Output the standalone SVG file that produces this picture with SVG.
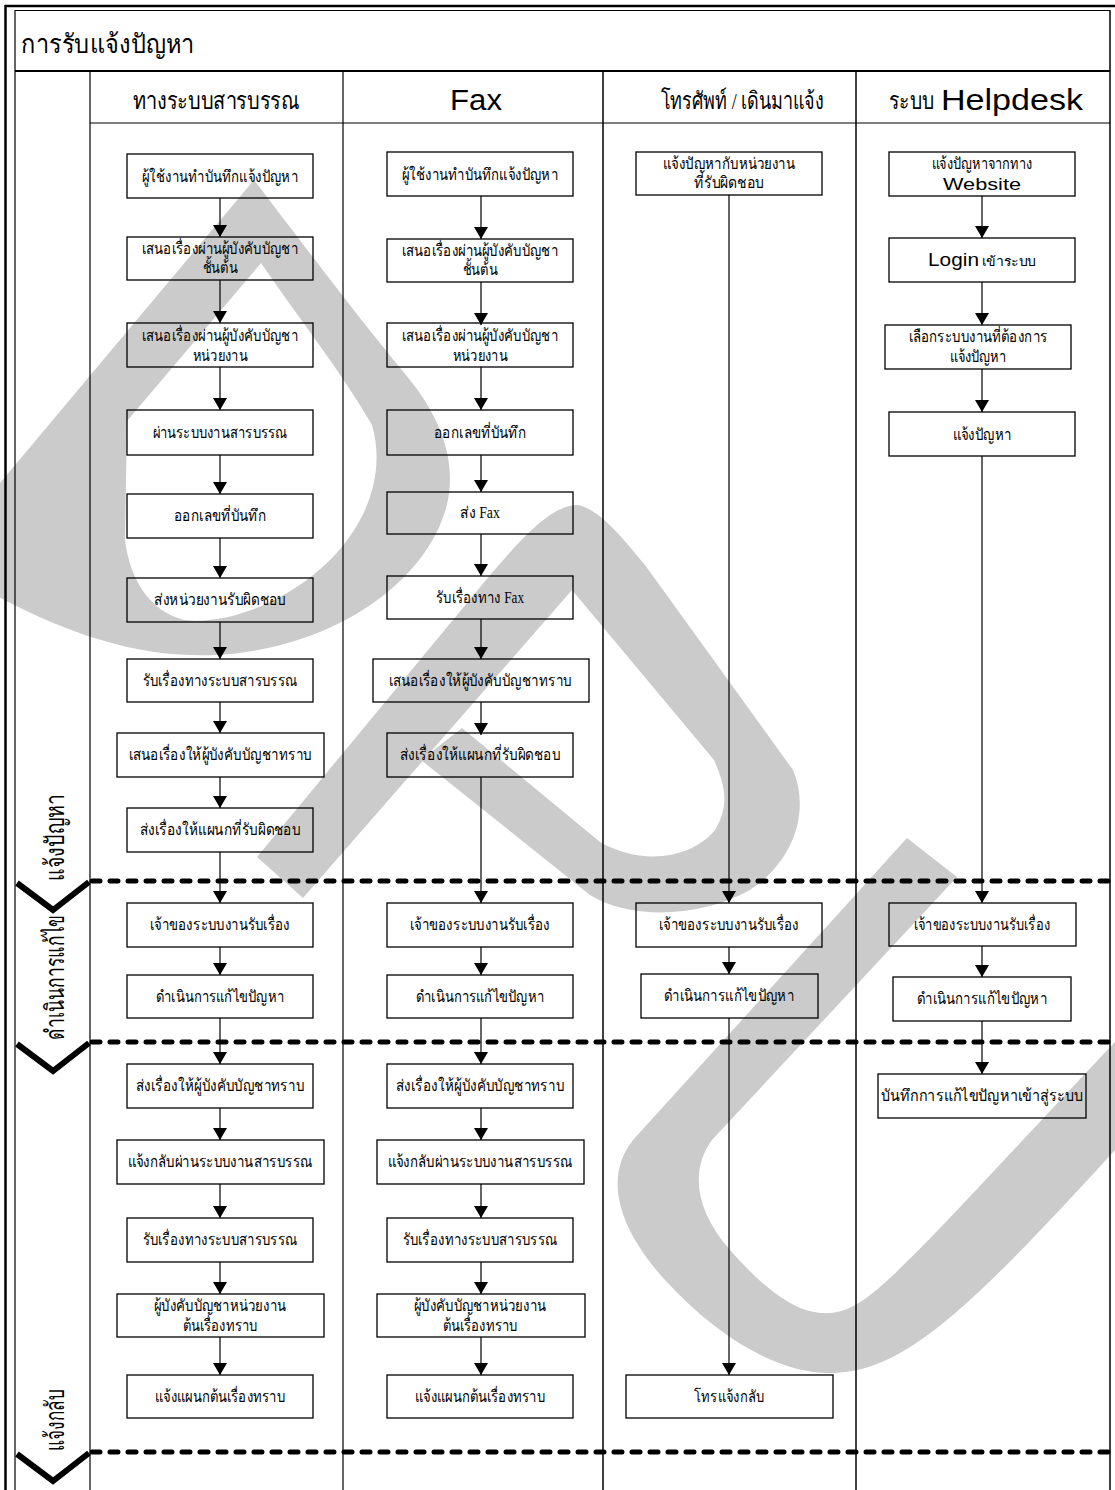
<svg xmlns="http://www.w3.org/2000/svg" width="1115" height="1490" viewBox="0 0 1115 1490">
<defs>
<style>
.box{fill:none;stroke:#000;stroke-width:1.3}
.t{font-family:'Liberation Serif','DejaVu Serif',serif;font-size:16px;fill:#000;text-anchor:middle}
.s{font-family:'Liberation Sans','DejaVu Sans',sans-serif;fill:#000}
.hd{font-size:24px}
.lane{font-family:'Liberation Serif','DejaVu Serif',serif;font-size:26px;fill:#000;text-anchor:middle}
.frame{stroke:#000;fill:none}
.wm{fill:#cbcbcb;stroke:none}
.cn{stroke:#000;stroke-width:1.2;fill:none;marker-end:url(#ah)}
.dash{stroke:#000;stroke-width:5;stroke-dasharray:8 10;stroke-linecap:round;fill:none}
.chev{stroke:#000;stroke-width:6;fill:none;stroke-linejoin:miter}
</style>
<marker id="ah" viewBox="0 0 12 14" refX="12" refY="7" markerWidth="12" markerHeight="14" markerUnits="userSpaceOnUse" orient="auto">
<path d="M0,0 L12,7 L0,14 Z" fill="#000"/>
</marker>
</defs>
<rect x="0" y="0" width="1115" height="1490" fill="#fff"/>
<g id="watermark">
<path class="wm" fill-rule="evenodd" d="M -5,489 L 254,180 C 300,240 360,320 410,380 C 450,430 460,480 440,525 C 410,595 320,650 215,655 C 140,658 70,635 -5,595 Z M 261,263 C 300,320 340,370 372,425 C 385,470 370,520 330,560 C 290,600 230,625 185,620 C 150,612 130,580 125,540 L 127,421 Z"/>
<path class="wm" d="M 257,857 L 486,580 C 520,540 550,505 578,505 C 600,510 620,535 645,565 L 793,770 C 810,810 795,860 750,890 C 700,918 630,920 590,895 L 421,760 L 462,728 L 600,842 C 640,865 690,860 715,830 C 730,805 725,785 714,760 L 572,590 L 303,898 Z"/>
<path class="wm" d="M 907,838 L 957,877 L 712,1140 C 690,1170 695,1210 730,1250 C 770,1295 800,1315 830,1313 C 870,1310 900,1270 1115,1042 L 1115,1150 C 960,1320 900,1373 829,1373 C 780,1373 720,1340 665,1280 C 615,1225 605,1175 633,1140 Z"/>
</g>
<g id="frame">
<line class="frame" x1="5" y1="6" x2="1115" y2="6" stroke-width="2.5"/>
<line class="frame" x1="5.5" y1="5" x2="5.5" y2="1490" stroke-width="2.5"/>
<line class="frame" x1="15" y1="10.5" x2="1110" y2="10.5" stroke-width="1.2"/>
<line class="frame" x1="15" y1="10" x2="15" y2="1490" stroke-width="1.2"/>
<line class="frame" x1="1110" y1="10" x2="1110" y2="1490" stroke-width="1.5"/>
<line class="frame" x1="15" y1="71" x2="1110" y2="71" stroke-width="2"/>
<line class="frame" x1="90" y1="123" x2="1110" y2="123" stroke-width="1.2"/>
<line class="frame" x1="90" y1="71" x2="90" y2="1490" stroke-width="1.2"/>
<line class="frame" x1="343" y1="71" x2="343" y2="1490" stroke-width="1.2"/>
<line class="frame" x1="603" y1="71" x2="603" y2="1490" stroke-width="1.5"/>
<line class="frame" x1="856" y1="71" x2="856" y2="1490" stroke-width="1.5"/>
</g>
<g id="headers">
<text class="t" x="21" y="53" style="font-size:26px;text-anchor:start" textLength="174" lengthAdjust="spacingAndGlyphs">การรับแจ้งปัญหา</text>
<text class="t hd" x="216" y="109" textLength="167" lengthAdjust="spacingAndGlyphs">ทางระบบสารบรรณ</text>
<text class="s" x="476" y="110" style="font-size:29px;text-anchor:middle" textLength="52" lengthAdjust="spacingAndGlyphs">Fax</text>
<text class="t hd" x="742" y="109" textLength="163" lengthAdjust="spacingAndGlyphs">โทรศัพท์ / เดินมาแจ้ง</text>
<text class="t hd" x="889" y="109" style="text-anchor:start" textLength="45" lengthAdjust="spacingAndGlyphs">ระบบ</text>
<text class="s" x="941" y="110" style="font-size:29px" textLength="142" lengthAdjust="spacingAndGlyphs">Helpdesk</text>
</g>
<g id="phases">
<path class="dash" d="M 92,881 H 1115"/>
<path class="dash" d="M 92,1042 H 1115"/>
<path class="dash" d="M 92,1452 H 1115"/>
<path class="chev" d="M 17,883 L 53,910 L 89,882"/>
<path class="chev" d="M 17,1044 L 53,1071 L 89,1043"/>
<path class="chev" d="M 17,1454 L 53,1481 L 89,1453"/>
<text class="lane" x="64" y="837" transform="rotate(-90 64 837)" textLength="87" lengthAdjust="spacingAndGlyphs">แจ้งปัญหา</text>
<text class="lane" x="64" y="977" transform="rotate(-90 64 977)" textLength="125" lengthAdjust="spacingAndGlyphs">ดำเนินการแก้ไข</text>
<text class="lane" x="64" y="1420" transform="rotate(-90 64 1420)" textLength="62" lengthAdjust="spacingAndGlyphs">แจ้งกลับ</text>
</g>
<g id="connectors">
<path class="cn" d="M220,198 V237"/>
<path class="cn" d="M220,280 V323"/>
<path class="cn" d="M220,367 V410"/>
<path class="cn" d="M220,455 V494"/>
<path class="cn" d="M220,538 V578"/>
<path class="cn" d="M220,622 V659"/>
<path class="cn" d="M220,702 V733"/>
<path class="cn" d="M220,777 V808"/>
<path class="cn" d="M220,852 V903"/>
<path class="cn" d="M220,947 V975"/>
<path class="cn" d="M220,1018 V1064"/>
<path class="cn" d="M220,1108 V1140"/>
<path class="cn" d="M220,1184 V1218"/>
<path class="cn" d="M220,1262 V1294"/>
<path class="cn" d="M220,1337 V1375"/>
<path class="cn" d="M481,196 V239"/>
<path class="cn" d="M481,282 V325"/>
<path class="cn" d="M481,367 V410"/>
<path class="cn" d="M481,455 V492"/>
<path class="cn" d="M481,534 V576"/>
<path class="cn" d="M481,619 V659"/>
<path class="cn" d="M481,702 V735"/>
<path class="cn" d="M481,777 V903"/>
<path class="cn" d="M481,947 V975"/>
<path class="cn" d="M481,1018 V1064"/>
<path class="cn" d="M481,1108 V1140"/>
<path class="cn" d="M481,1184 V1218"/>
<path class="cn" d="M481,1262 V1294"/>
<path class="cn" d="M481,1337 V1375"/>
<path class="cn" d="M729,195 V903"/>
<path class="cn" d="M729,947 V974"/>
<path class="cn" d="M729,1018 V1375"/>
<path class="cn" d="M982,196 V238"/>
<path class="cn" d="M982,282 V325"/>
<path class="cn" d="M982,369 V412"/>
<path class="cn" d="M982,456 V903"/>
<path class="cn" d="M982,946 V977"/>
<path class="cn" d="M982,1021 V1074"/>
</g>
<g id="n1"><rect class="box" x="127" y="154" width="186" height="44"/><text class="t" x="220" y="182" textLength="156" lengthAdjust="spacingAndGlyphs">ผู้ใช้งานทำบันทึกแจ้งปัญหา</text></g>
<g id="n2"><rect class="box" x="127" y="237" width="186" height="43"/><text class="t" x="220" y="254" textLength="156" lengthAdjust="spacingAndGlyphs">เสนอเรื่องผ่านผู้บังคับบัญชา</text><text class="t" x="220" y="273" textLength="35" lengthAdjust="spacingAndGlyphs">ชั้นต้น</text></g>
<g id="n3"><rect class="box" x="127" y="323" width="186" height="44"/><text class="t" x="220" y="341" textLength="156" lengthAdjust="spacingAndGlyphs">เสนอเรื่องผ่านผู้บังคับบัญชา</text><text class="t" x="220" y="361" textLength="55" lengthAdjust="spacingAndGlyphs">หน่วยงาน</text></g>
<g id="n4"><rect class="box" x="127" y="410" width="186" height="45"/><text class="t" x="220" y="438" textLength="135" lengthAdjust="spacingAndGlyphs">ผ่านระบบงานสารบรรณ</text></g>
<g id="n5"><rect class="box" x="127" y="494" width="186" height="44"/><text class="t" x="220" y="521" textLength="92" lengthAdjust="spacingAndGlyphs">ออกเลขที่บันทึก</text></g>
<g id="n6"><rect class="box" x="127" y="578" width="186" height="44"/><text class="t" x="220" y="605" textLength="132" lengthAdjust="spacingAndGlyphs">ส่งหน่วยงานรับผิดชอบ</text></g>
<g id="n7"><rect class="box" x="127" y="659" width="186" height="43"/><text class="t" x="220" y="686" textLength="155" lengthAdjust="spacingAndGlyphs">รับเรื่องทางระบบสารบรรณ</text></g>
<g id="n8"><rect class="box" x="117" y="733" width="207" height="44"/><text class="t" x="220" y="760" textLength="183" lengthAdjust="spacingAndGlyphs">เสนอเรื่องให้ผู้บังคับบัญชาทราบ</text></g>
<g id="n9"><rect class="box" x="127" y="808" width="186" height="44"/><text class="t" x="220" y="835" textLength="161" lengthAdjust="spacingAndGlyphs">ส่งเรื่องให้แผนกที่รับผิดชอบ</text></g>
<g id="n10"><rect class="box" x="127" y="903" width="186" height="44"/><text class="t" x="220" y="930" textLength="140" lengthAdjust="spacingAndGlyphs">เจ้าของระบบงานรับเรื่อง</text></g>
<g id="n11"><rect class="box" x="127" y="975" width="186" height="43"/><text class="t" x="220" y="1002" textLength="128" lengthAdjust="spacingAndGlyphs">ดำเนินการแก้ไขปัญหา</text></g>
<g id="n12"><rect class="box" x="127" y="1064" width="186" height="44"/><text class="t" x="220" y="1091" textLength="168" lengthAdjust="spacingAndGlyphs">ส่งเรื่องให้ผู้บังคับบัญชาทราบ</text></g>
<g id="n13"><rect class="box" x="117" y="1140" width="207" height="44"/><text class="t" x="220" y="1167" textLength="185" lengthAdjust="spacingAndGlyphs">แจ้งกลับผ่านระบบงานสารบรรณ</text></g>
<g id="n14"><rect class="box" x="127" y="1218" width="186" height="44"/><text class="t" x="220" y="1245" textLength="155" lengthAdjust="spacingAndGlyphs">รับเรื่องทางระบบสารบรรณ</text></g>
<g id="n15"><rect class="box" x="117" y="1294" width="207" height="43"/><text class="t" x="220" y="1311" textLength="132" lengthAdjust="spacingAndGlyphs">ผู้บังคับบัญชาหน่วยงาน</text><text class="t" x="220" y="1331" textLength="75" lengthAdjust="spacingAndGlyphs">ต้นเรื่องทราบ</text></g>
<g id="n16"><rect class="box" x="127" y="1375" width="186" height="43"/><text class="t" x="220" y="1402" textLength="130" lengthAdjust="spacingAndGlyphs">แจ้งแผนกต้นเรื่องทราบ</text></g>
<g id="f1"><rect class="box" x="387" y="152" width="186" height="44"/><text class="t" x="480" y="180" textLength="156" lengthAdjust="spacingAndGlyphs">ผู้ใช้งานทำบันทึกแจ้งปัญหา</text></g>
<g id="f2"><rect class="box" x="387" y="239" width="186" height="43"/><text class="t" x="480" y="256" textLength="156" lengthAdjust="spacingAndGlyphs">เสนอเรื่องผ่านผู้บังคับบัญชา</text><text class="t" x="480" y="275" textLength="35" lengthAdjust="spacingAndGlyphs">ชั้นต้น</text></g>
<g id="f3"><rect class="box" x="387" y="323" width="186" height="44"/><text class="t" x="480" y="341" textLength="156" lengthAdjust="spacingAndGlyphs">เสนอเรื่องผ่านผู้บังคับบัญชา</text><text class="t" x="480" y="361" textLength="55" lengthAdjust="spacingAndGlyphs">หน่วยงาน</text></g>
<g id="f4"><rect class="box" x="387" y="410" width="186" height="45"/><text class="t" x="480" y="438" textLength="92" lengthAdjust="spacingAndGlyphs">ออกเลขที่บันทึก</text></g>
<g id="f5"><rect class="box" x="387" y="492" width="186" height="42"/><text class="t" x="480" y="518" textLength="40" lengthAdjust="spacingAndGlyphs">ส่ง Fax</text></g>
<g id="f6"><rect class="box" x="387" y="576" width="186" height="43"/><text class="t" x="480" y="603" textLength="88" lengthAdjust="spacingAndGlyphs">รับเรื่องทาง Fax</text></g>
<g id="f7"><rect class="box" x="373" y="659" width="216" height="43"/><text class="t" x="480" y="686" textLength="183" lengthAdjust="spacingAndGlyphs">เสนอเรื่องให้ผู้บังคับบัญชาทราบ</text></g>
<g id="f8"><rect class="box" x="387" y="733" width="186" height="44"/><text class="t" x="480" y="760" textLength="160" lengthAdjust="spacingAndGlyphs">ส่งเรื่องให้แผนกที่รับผิดชอบ</text></g>
<g id="f9"><rect class="box" x="387" y="903" width="186" height="44"/><text class="t" x="480" y="930" textLength="140" lengthAdjust="spacingAndGlyphs">เจ้าของระบบงานรับเรื่อง</text></g>
<g id="f10"><rect class="box" x="387" y="975" width="186" height="43"/><text class="t" x="480" y="1002" textLength="128" lengthAdjust="spacingAndGlyphs">ดำเนินการแก้ไขปัญหา</text></g>
<g id="f11"><rect class="box" x="387" y="1064" width="186" height="44"/><text class="t" x="480" y="1091" textLength="168" lengthAdjust="spacingAndGlyphs">ส่งเรื่องให้ผู้บังคับบัญชาทราบ</text></g>
<g id="f12"><rect class="box" x="377" y="1140" width="207" height="44"/><text class="t" x="480" y="1167" textLength="185" lengthAdjust="spacingAndGlyphs">แจ้งกลับผ่านระบบงานสารบรรณ</text></g>
<g id="f13"><rect class="box" x="387" y="1218" width="186" height="44"/><text class="t" x="480" y="1245" textLength="155" lengthAdjust="spacingAndGlyphs">รับเรื่องทางระบบสารบรรณ</text></g>
<g id="f14"><rect class="box" x="377" y="1294" width="208" height="43"/><text class="t" x="480" y="1311" textLength="132" lengthAdjust="spacingAndGlyphs">ผู้บังคับบัญชาหน่วยงาน</text><text class="t" x="480" y="1331" textLength="75" lengthAdjust="spacingAndGlyphs">ต้นเรื่องทราบ</text></g>
<g id="f15"><rect class="box" x="387" y="1375" width="186" height="43"/><text class="t" x="480" y="1402" textLength="130" lengthAdjust="spacingAndGlyphs">แจ้งแผนกต้นเรื่องทราบ</text></g>
<g id="p1"><rect class="box" x="636" y="152" width="186" height="43"/><text class="t" x="729" y="169" textLength="132" lengthAdjust="spacingAndGlyphs">แจ้งปัญหากับหน่วยงาน</text><text class="t" x="729" y="188" textLength="70" lengthAdjust="spacingAndGlyphs">ที่รับผิดชอบ</text></g>
<g id="p2"><rect class="box" x="636" y="903" width="186" height="44"/><text class="t" x="729" y="930" textLength="140" lengthAdjust="spacingAndGlyphs">เจ้าของระบบงานรับเรื่อง</text></g>
<g id="p3"><rect class="box" x="641" y="974" width="177" height="44"/><text class="t" x="729" y="1001" textLength="130" lengthAdjust="spacingAndGlyphs">ดำเนินการแก้ไขปัญหา</text></g>
<g id="p4"><rect class="box" x="626" y="1375" width="207" height="43"/><text class="t" x="729" y="1402" textLength="70" lengthAdjust="spacingAndGlyphs">โทรแจ้งกลับ</text></g>
<g id="h1"><rect class="box" x="889" y="152" width="186" height="44"/><text class="t" x="982" y="169" textLength="101" lengthAdjust="spacingAndGlyphs">แจ้งปัญหาจากทาง</text><text class="s" x="982" y="190" style="font-size:17px;text-anchor:middle" textLength="78" lengthAdjust="spacingAndGlyphs">Website</text></g>
<g id="h2"><rect class="box" x="889" y="238" width="186" height="44"/><text class="s" x="928" y="266" style="font-size:17.5px" textLength="51" lengthAdjust="spacingAndGlyphs">Login</text><text class="t" x="982" y="266" style="font-size:13px;text-anchor:start" textLength="54" lengthAdjust="spacingAndGlyphs">เข้าระบบ</text></g>
<g id="h3"><rect class="box" x="885" y="325" width="186" height="44"/><text class="t" x="978" y="342" textLength="139" lengthAdjust="spacingAndGlyphs">เลือกระบบงานที่ต้องการ</text><text class="t" x="978" y="362" textLength="57" lengthAdjust="spacingAndGlyphs">แจ้งปัญหา</text></g>
<g id="h4"><rect class="box" x="889" y="412" width="186" height="44"/><text class="t" x="982" y="440" textLength="59" lengthAdjust="spacingAndGlyphs">แจ้งปัญหา</text></g>
<g id="h5"><rect class="box" x="889" y="903" width="187" height="43"/><text class="t" x="982" y="930" textLength="136" lengthAdjust="spacingAndGlyphs">เจ้าของระบบงานรับเรื่อง</text></g>
<g id="h6"><rect class="box" x="893" y="977" width="178" height="44"/><text class="t" x="982" y="1004" textLength="130" lengthAdjust="spacingAndGlyphs">ดำเนินการแก้ไขปัญหา</text></g>
<g id="h7"><rect class="box" x="878" y="1074" width="208" height="44"/><text class="t" x="982" y="1101" textLength="202" lengthAdjust="spacingAndGlyphs">บันทึกการแก้ไขปัญหาเข้าสู่ระบบ</text></g>
</svg>
